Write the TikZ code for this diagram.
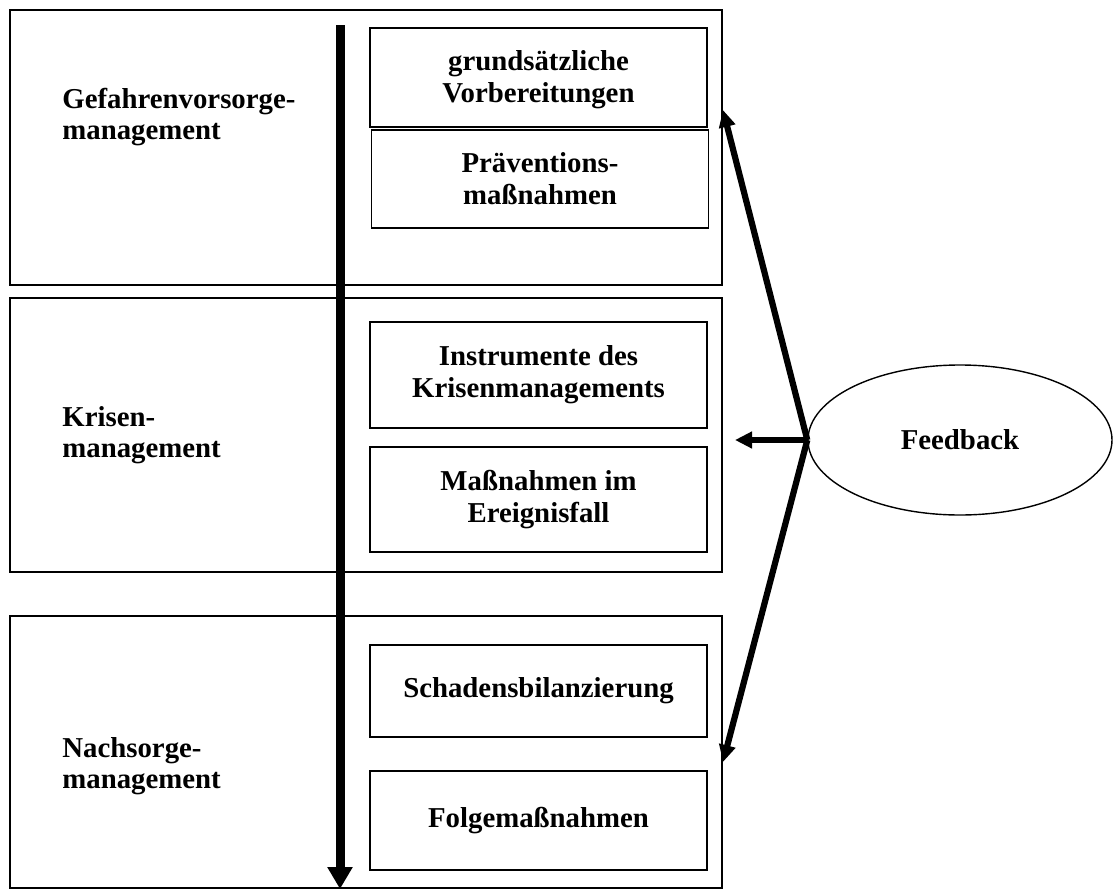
\documentclass[tikz,border=0pt]{standalone}
\usepackage{fontspec}
\setmainfont{Liberation Serif}
\usetikzlibrary{shapes.geometric,arrows.meta}
\tikzset{
  phase_box/.style = {draw, line width=1pt, rectangle, inner sep=0pt, minimum width=356pt},
  item_box/.style = {draw, line width=0.9pt, rectangle, align=center, inner sep=0pt,
    minimum width=168.5pt, font=\fontsize{14.4}{16}\selectfont\bfseries},
  phase_lbl/.style = {align=left, inner sep=0pt, anchor=west, font=\fontsize{14.4}{15.5}\selectfont\bfseries},
  fb_ell/.style = {draw, ellipse, line width=0.7pt, minimum width=152pt, minimum height=75pt,
    font=\fontsize{14.4}{17}\selectfont\bfseries},
  fb_arr/.style = {line width=3.1pt, -{Triangle[length=8.5pt,width=8pt]}}
}
\begin{document}
\begin{tikzpicture}[x=0.5pt,y=-0.5pt]
\useasboundingbox (0,0) rectangle (1115,889);
% phases
\node [phase_box, minimum height=137.5pt] (gv) at (366,147.5) {};
\node [phase_box, minimum height=137pt] (km) at (366,435) {};
\node [phase_box, minimum height=136pt] (nm) at (366,889) [anchor=south] {};
\node [phase_lbl] (gv_l) at (62,117) {Gefahrenvorsorge-\\management};
\node [phase_lbl] (km_l) at (62,435) {Krisen-\\management};
\node [phase_lbl] (nm_l) at (62,766) {Nachsorge-\\management};
% measures
\node [item_box, minimum height=49.5pt] (i1) at (538.5,77.5) {\rule{0pt}{12.5pt}grunds\"atzliche\\Vorbereitungen};
\node [item_box, minimum height=49pt] (i2) at (540,179) {Pr\"aventions-\\ma\ss nahmen};
\node [item_box, minimum height=53pt] (i3) at (538.5,375) {Instrumente des\\Krisenmanagements};
\node [item_box, minimum height=52.5pt] (i4) at (538.5,499.5) {Ma\ss nahmen im\\Ereignisfall};
\node [item_box, minimum height=46pt] (i5) at (538.5,691) {Schadensbilanzierung};
\node [item_box, minimum height=49.5pt] (i6) at (538.5,820.5) {Folgema\ss nahmen};
% time axis
\coordinate (t_top) at (340,25);
\coordinate (t_bot) at (340,889);
\draw [line width=4.5pt, -{Triangle[length=11pt,width=12pt]}] (t_top) -- (t_bot);
% feedback
\node [fb_ell] (fb) at (960,440) {Feedback};
\coordinate (j) at (fb.west);
\coordinate (fb_up) at (723,110);
\coordinate (fb_left) at (735,440);
\coordinate (fb_down) at (723,762);
\draw [fb_arr] (j) -- (fb_up);
\draw [fb_arr] (j) -- (fb_left);
\draw [fb_arr] (j) -- (fb_down);
\end{tikzpicture}
\end{document}
